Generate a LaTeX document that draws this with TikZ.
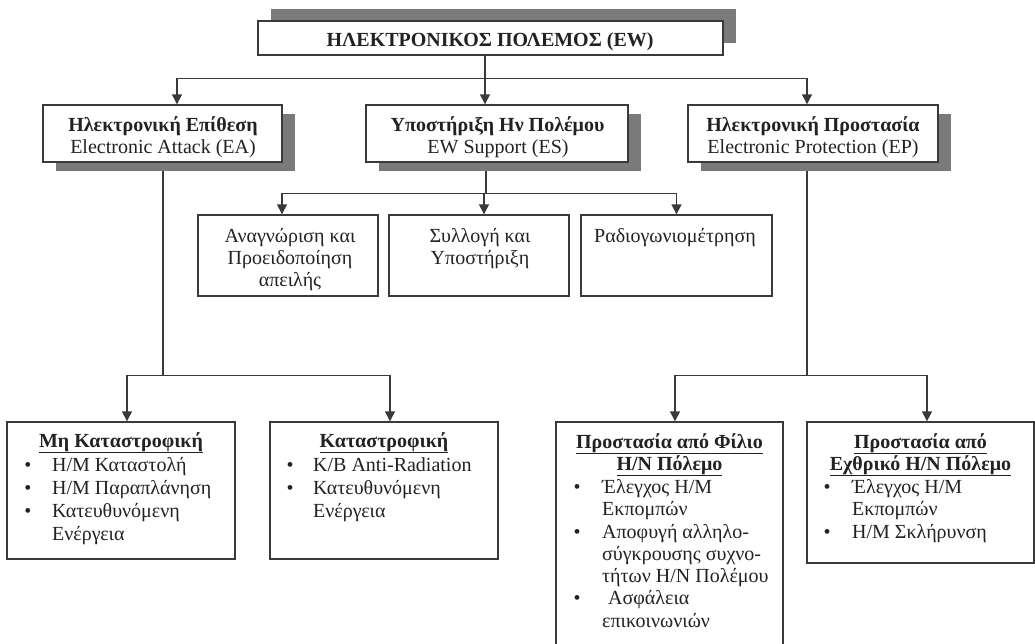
\documentclass[tikz,border=0pt]{standalone}
\usepackage{fontspec}
\setmainfont{Liberation Serif}
\usetikzlibrary{arrows.meta,shadows,backgrounds}
\definecolor{ink}{HTML}{222222}
\definecolor{rule}{HTML}{3A3A3A}
\definecolor{shade}{HTML}{7A7A7A}

\begin{document}
\begin{tikzpicture}[x=1pt,y=-1pt,
  every node/.style={font=\fontsize{20}{23}\selectfont,text=ink,inner sep=0pt},
  box/.style={draw=rule,line width=1.4pt,fill=white},
  topbox/.style={box,drop shadow={shadow xshift=13pt,shadow yshift=12pt,fill=shade,opacity=1}},
  midbox/.style={box,drop shadow={shadow xshift=13pt,shadow yshift=-9pt,fill=shade,opacity=1}},
  con/.style={draw=rule,line width=1.4pt},
  arr/.style={con,-{Triangle[length=10pt,width=10pt]}},
  hd/.style={font=\fontsize{20}{23}\selectfont\bfseries}]
\useasboundingbox (0,0) rectangle (1035,643);

% top and middle row
\node[topbox,minimum width=465pt,minimum height=34pt] (ew) at (490.5,38) {};
\node[hd,anchor=base] at (490,46) {ΗΛΕΚΤΡΟΝΙΚΟΣ ΠΟΛΕΜΟΣ (EW)};
\node[midbox,minimum width=239pt,minimum height=57pt] (ea) at (162.5,133.5) {};
\node[midbox,minimum width=262pt,minimum height=57pt] (es) at (497,133.5) {};
\node[midbox,minimum width=250pt,minimum height=57pt] (ep) at (813,133.5) {};
\node[hd,anchor=base] at (163,131) {Ηλεκτρονική Επίθεση};
\node[anchor=base] at (163,153) {Electronic Attack (EA)};
\node[hd,anchor=base] at (497.5,131) {Υποστήριξη Ην Πολέμου};
\node[anchor=base] at (498,153) {EW Support (ES)};
\node[hd,anchor=base] at (813,131) {Ηλεκτρονική Προστασία};
\node[anchor=base] at (813,153) {Electronic Protection (EP)};

% ES functions
\node[box,minimum width=180pt,minimum height=81pt] (sa) at (288,255.5) {};
\node[box,minimum width=180pt,minimum height=81pt] (sb) at (479,255.5) {};
\node[box,minimum width=191pt,minimum height=81pt] (sc) at (676.5,255.5) {};
\foreach \y/\t in {242/Αναγνώριση και, 264/Προειδοποίηση, 286/απειλής}
  \node[anchor=base] at (290,\y) {\t};
\foreach \y/\t in {242/Συλλογή και, 264/Υποστήριξη}
  \node[anchor=base] at (480,\y) {\t};
\node[anchor=base] at (675,242) {Ραδιογωνιομέτρηση};

% bottom row
\node[box,minimum width=228pt,minimum height=137pt] (mk) at (121,490.5) {};
\node[box,minimum width=228pt,minimum height=137pt] (ka) at (384,490.5) {};
\node[box,minimum width=227pt,minimum height=240pt] (fp) at (669.5,542) {};
\node[box,minimum width=227pt,minimum height=141pt] (eb) at (920.5,492.5) {};

\node[hd,anchor=base] at (121,447) {\underline{Μη Καταστροφική}};
\foreach \y in {471,494,517}
  \node[anchor=base] at (28,\y) {\textbullet};
\foreach \y/\t in {471/Η{/}Μ Καταστολή, 494/Η{/}Μ Παραπλάνηση, 517/Κατευθυνόμενη, 540/Ενέργεια}
  \node[anchor=base west] at (52,\y) {\t};

\node[hd,anchor=base] at (384,447) {\underline{Καταστροφική}};
\foreach \y in {471,494}
  \node[anchor=base] at (290,\y) {\textbullet};
\foreach \y/\t in {471/Κ{/}Β Anti-Radiation, 494/Κατευθυνόμενη, 517/Ενέργεια}
  \node[anchor=base west] at (313,\y) {\t};

\node[hd,anchor=base] at (669.5,448) {\underline{Προστασία από Φίλιο}};
\node[hd,anchor=base] at (669.5,470) {\underline{Η/Ν Πόλεμο}};
\foreach \y in {493,538,604}
  \node[anchor=base] at (577,\y) {\textbullet};
\foreach \y/\t in {493/Έλεγχος Η{/}Μ, 515/Εκπομπών, 538/Αποφυγή αλληλο-, 560/σύγκρουσης συχνο-, 582/τήτων Η{/}Ν Πολέμου, 627/επικοινωνιών}
  \node[anchor=base west] at (602,\y) {\t};
\node[anchor=base west] at (608,604) {Ασφάλεια};

\node[hd,anchor=base] at (920.5,448) {\underline{Προστασία από}};
\node[hd,anchor=base] at (920.5,470) {\underline{Εχθρικό Η/Ν Πόλεμο}};
\foreach \y in {493,538}
  \node[anchor=base] at (827,\y) {\textbullet};
\foreach \y/\t in {493/Έλεγχος Η{/}Μ, 515/Εκπομπών, 538/Η{/}Μ Σκλήρυνση}
  \node[anchor=base west] at (852,\y) {\t};

% connectors
\begin{scope}[on background layer]
\draw[con] ([xshift=-5.5pt]ew.south) -- ++(0,23) coordinate (ewh);
\draw[arr] (ewh) -| ([xshift=14.5pt]ea.north);
\draw[arr] (ewh) -- (ewh |- es.north);
\draw[arr] (ewh) -| ([xshift=-6pt]ep.north);
\draw[con] ([xshift=0.5pt]ea.south) -- ++(0,213) coordinate (eah);
\draw[arr] (eah) -| ([xshift=6pt]mk.north);
\draw[arr] (eah) -| ([xshift=6pt]ka.north);
\draw[con] ([xshift=-11pt]es.south) -- ++(0,31) coordinate (esh);
\draw[arr] (esh) -| ([xshift=-6pt]sa.north);
\draw[arr] (esh) -| ([xshift=5pt]sb.north);
\draw[arr] (esh) -| (sc.north);
\draw[con] ([xshift=-6pt]ep.south) -- ++(0,213) coordinate (eph);
\draw[arr] (eph) -| ([xshift=5.5pt]fp.north);
\draw[arr] (eph) -| ([xshift=6.5pt]eb.north);
\end{scope}
\end{tikzpicture}
\end{document}
